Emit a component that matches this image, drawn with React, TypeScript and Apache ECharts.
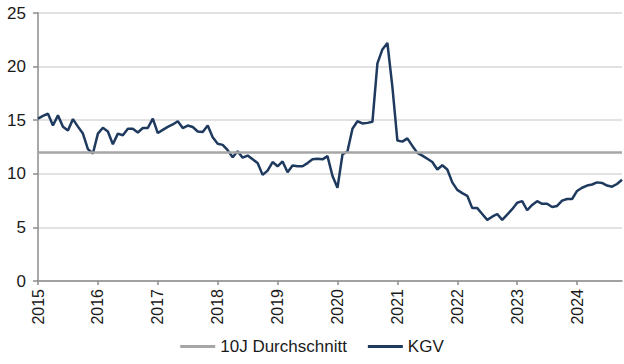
import React, { useEffect, useRef } from "react";
import * as echarts from "echarts";

const START_YEAR = 2015;
const YEAR_LABELS = ["2015", "2016", "2017", "2018", "2019", "2020", "2021", "2022", "2023", "2024"];
const KGV = [
  15.15, 15.4, 15.6, 14.5, 15.45, 14.4, 14.05, 15.1, 14.4, 13.75, 12.3, 11.9,
  13.75, 14.3, 13.95, 12.75, 13.75, 13.6, 14.2, 14.2, 13.85, 14.27, 14.27, 15.15,
  13.8, 14.1, 14.37, 14.6, 14.9, 14.27, 14.5, 14.37, 13.95, 13.9, 14.5, 13.4,
  12.8, 12.7, 12.2, 11.55, 12.1, 11.5, 11.7, 11.35, 11.0, 9.9, 10.3, 11.1,
  10.7, 11.15, 10.15, 10.78, 10.7, 10.7, 11.0, 11.35, 11.4, 11.35, 11.65, 9.8,
  8.7, 11.8, 12.1, 14.2, 14.9, 14.7, 14.75, 14.85, 20.3, 21.6, 22.2, 18.1,
  13.1, 13.0, 13.3, 12.6, 11.95, 11.7, 11.4, 11.1, 10.4, 10.8, 10.4, 9.2,
  8.5, 8.2, 7.95, 6.8, 6.8, 6.25, 5.7, 6.0, 6.25, 5.7, 6.2, 6.7,
  7.3, 7.45, 6.6, 7.1, 7.45, 7.2, 7.2, 6.9, 7.0, 7.5, 7.65, 7.65,
  8.4, 8.7, 8.9, 9.0, 9.2, 9.15, 8.9, 8.8, 9.05, 9.45,
];
const AVG_10J = 12;
const Y_MIN = 0;
const Y_MAX = 25;
const Y_STEP = 5;

const months: string[] = KGV.map((_, i) => {
  const y = START_YEAR + Math.floor(i / 12);
  const m = (i % 12) + 1;
  return `${y}-${m < 10 ? "0" + m : m}`;
});

const FONT = "'Liberation Sans', Arial, sans-serif";

export default function App() {
  const ref = useRef<HTMLDivElement>(null);
  useEffect(() => {
    if (!ref.current) return;
    const chart = echarts.init(ref.current, undefined, { renderer: "svg" });
    const isYearStart = (i: number) => i % 12 === 0;
    chart.setOption({
      animation: false,
      grid: { left: 38, right: 2, top: 13, bottom: 83, containLabel: false },
      legend: {
        top: 333,
        left: "center",
        itemGap: 21,
        itemWidth: 35,
        itemHeight: 3,
        icon: "rect",
        textStyle: { fontFamily: FONT, fontSize: 17, color: "#1a1a1a" },
        data: ["10J Durchschnitt", "KGV"],
      },
      xAxis: {
        type: "category",
        data: months,
        boundaryGap: false,
        axisLine: { show: true, lineStyle: { color: "#8c8c8c", width: 1.5 } },
        axisTick: {
          show: true,
          interval: (i: number) => isYearStart(i),
          length: 4,
          lineStyle: { color: "#8c8c8c", width: 1.5 },
        },
        axisLabel: {
          interval: (i: number) => isYearStart(i),
          rotate: 90,
          margin: 8,
          fontFamily: FONT,
          fontSize: 16,
          color: "#1a1a1a",
          formatter: (v: string) => {
            const idx = YEAR_LABELS.indexOf(v.slice(0, 4));
            return idx >= 0 ? YEAR_LABELS[idx] : "";
          },
        },
        splitLine: { show: false },
      },
      yAxis: {
        type: "value",
        min: Y_MIN,
        max: Y_MAX,
        interval: Y_STEP,
        axisLine: { show: true, lineStyle: { color: "#8c8c8c", width: 1.5 } },
        axisTick: { show: true, length: 5, lineStyle: { color: "#8c8c8c", width: 1.5 } },
        axisLabel: { margin: 12, fontFamily: FONT, fontSize: 17, color: "#1a1a1a" },
        splitLine: { show: true, lineStyle: { color: "#d9d9d9", width: 1.5 } },
      },
      series: [
        {
          name: "10J Durchschnitt",
          type: "line",
          data: [],
          color: "#a6a6a6",
          z: 2,
          markLine: {
            silent: true,
            symbol: "none",
            label: { show: false },
            lineStyle: { color: "#a6a6a6", width: 2.5, type: "solid" },
            data: [{ yAxis: AVG_10J }],
          },
        },
        {
          name: "KGV",
          type: "line",
          data: KGV,
          color: "#1f3a5f",
          showSymbol: false,
          symbol: "none",
          z: 3,
          lineStyle: { color: "#1f3a5f", width: 2.5 },
        },
      ],
    });
    return () => chart.dispose();
  }, []);
  return (
    <div
      ref={ref}
      style={{ position: "fixed", left: 0, top: 0, width: 624, height: 364, background: "#fff" }}
    />
  );
}
